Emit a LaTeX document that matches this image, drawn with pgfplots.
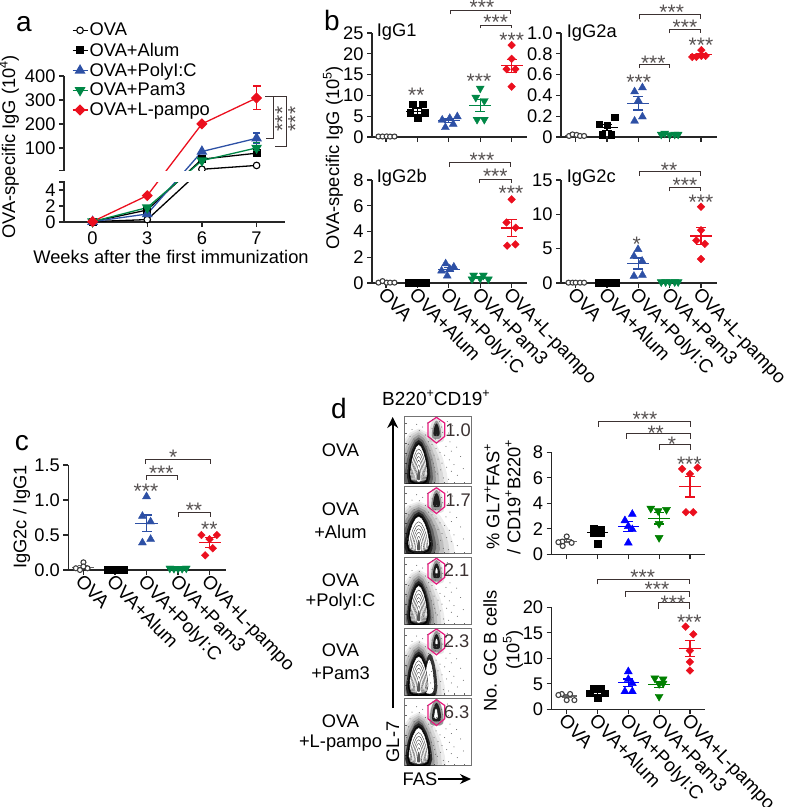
\documentclass[border=0pt]{standalone}
\usepackage{pgfplots}
\pgfplotsset{compat=1.18}
\usepackage{pgfplotstable}
\usepackage{fontspec}
\usetikzlibrary{arrows.meta}
\setmainfont{Liberation Sans}
\newcommand\fs{\fontsize{18.3}{20}\selectfont}
\newcommand\su[1]{\raisebox{.42em}{\fontsize{12.5}{12.5}\selectfont #1}}
\definecolor{cpoly}{RGB}{45,80,165}
\definecolor{cpam}{RGB}{0,135,70}
\definecolor{clp}{RGB}{235,15,30}
\definecolor{cbr}{RGB}{60,50,50}
\definecolor{cst}{RGB}{85,80,80}
\definecolor{cgate}{RGB}{230,25,125}
\pgfplotsset{
 px/.style n args={4}{at={(#1pt,-#2pt)},anchor=south west,width=#3pt,height=#4pt,scale only axis},
 base/.style={axis x line=bottom,axis y line=left,axis line style={-,line width=1.3pt,color=black!85},
   tick style={line width=1.2pt,color=black!85},major tick length=5pt,tick align=outside,
   tick label style={font=\fs},clip=false},
 dotx/.style={base,xtick={0,1,2,3,4},xticklabels={}},
 cats/.style={xticklabels={OVA,OVA+Alum,OVA+PolyI:C,OVA+Pam3,OVA+L-pampo},
   xticklabel style={rotate=-46,anchor=north west,inner sep=0pt,xshift=-1pt,yshift=2pt,font=\fontsize{18.9}{20}\selectfont}},
 gova/.style={only marks,mark=*,mark size=2.5pt,mark options={fill=white,draw=black!75,line width=1.1pt}},
 galum/.style={only marks,mark=square*,mark size=3.3pt,mark options={fill=black,draw=black}},
 gpoly/.style={only marks,mark=triangle*,mark size=4.6pt,mark options={fill=#1,draw=#1}},
 gpam/.style={only marks,mark=triangle*,mark size=4.6pt,mark options={rotate=180,fill=#1,draw=#1}},
 glp/.style={only marks,mark=square*,mark size=2.7pt,mark options={rotate=45,fill=clp,draw=clp}},
}
% mean line and SEM: #1 x, #2 mean, #3 sem, #4 colour
\newcommand\stat[4]{%
 \addplot[#4,line width=1.2pt,forget plot,error bars/.cd,x dir=both,x fixed=0.35,error mark=none,
   error bar style={line width=1.2pt,#4}] coordinates {(#1,#2)};
 \addplot[#4,line width=1.2pt,forget plot,error bars/.cd,y dir=both,y fixed=#3,error mark=-,
   error bar style={line width=1.2pt,#4},error mark options={rotate=90,mark size=5pt,line width=1.2pt,#4}] coordinates {(#1,#2)};
}
\pgfplotstableread{
x y
0 1
0.3 0.88
0.6 0.55
0.82 0.15
0.96 -0.3
1 -0.6
0.85 -0.9
0.5 -1
0 -1.02
-0.5 -1
-0.85 -0.9
-1 -0.6
-0.96 -0.3
-0.82 0.15
-0.6 0.55
-0.3 0.88
0 1
}\eggtab
\pgfplotstableread{
x y
0.03 0.42
0.06 0.58
0.04 0.22
0.08 0.7
0.11 0.8
0.14 0.66
0.18 0.88
0.22 0.79
0.27 0.84
0.31 0.72
0.34 0.9
0.36 0.62
0.33 0.55
0.38 0.49
0.41 0.58
0.44 0.42
0.47 0.52
0.5 0.36
0.53 0.46
0.56 0.3
0.6 0.42
0.63 0.24
0.67 0.35
0.7 0.18
0.74 0.28
0.79 0.12
0.45 0.24
0.49 0.14
0.54 0.2
0.58 0.08
0.42 0.1
0.66 0.06
0.37 0.3
0.4 0.35
0.43 0.3
0.46 0.17
0.39 0.18
0.62 0.55
0.68 0.62
0.66 0.75
0.72 0.86
0.64 0.92
0.7 0.48
0.78 0.54
0.84 0.4
0.88 0.22
0.42 0.95
0.45 0.88
0.52 0.92
0.55 0.84
0.41 0.82
0.43 0.72
0.46 0.66
0.51 0.63
0.54 0.7
0.57 0.76
0.4 0.66
0.48 0.72
}\specktab
\newcommand\egg[5]{\addplot[#5,forget plot] table[x expr={#1+#3*\thisrow{x}},y expr={#2+#4*\thisrow{y}}]{\eggtab};}
% flow panel: #1 bottom y; #2 main half width; #3 main half height; #4 gate size; #5 shoulder; #6 gate core; #7 halo width factor
\newcommand\flow[7]{%
\begin{axis}[px={404.7}{#1}{66.6}{67},xmin=0,xmax=1,ymin=0,ymax=1,
   axis line style={black!55,line width=0.7pt},xtick={0.15,0.3,0.45,0.6,0.75,0.9},ytick={0.15,0.3,0.45,0.6,0.75,0.9},
   xticklabels={},yticklabels={},tick align=inside,major tick length=1.8pt,tick style={black!60,line width=0.4pt},
   xtick pos=bottom,ytick pos=left]
 \addplot[only marks,mark=*,mark size=0.22pt,black!60,forget plot] table {\specktab};
 \egg{0.21}{0.3}{#2*3.4*#7}{#3*1.85}{fill=black,fill opacity=0.07,draw=none}
 \egg{0.21}{0.3}{#2*2.9*#7}{#3*1.75}{fill=black,fill opacity=0.09,draw=none}
 \egg{0.21}{0.3}{#2*2.4*#7}{#3*1.65}{fill=black,fill opacity=0.12,draw=none}
 \egg{0.21}{0.3}{#2*2.0*#7}{#3*1.52}{fill=black,fill opacity=0.2,draw=none}
 \egg{0.21}{0.3}{#2*1.65*#7}{#3*1.38}{fill=black,fill opacity=0.35,draw=none}
 \egg{0.21}{0.3}{#2*1.35}{#3*1.24}{fill=black,fill opacity=0.65,draw=none}
 \egg{0.21}{0.3}{#2*1.15}{#3*1.1}{fill=black,fill opacity=0.9,draw=none}
 #5
 \egg{0.21}{0.3}{#2}{#3}{fill=white,draw=black,line width=0.4pt}
 \egg{0.21}{0.02+#3*0.88}{#2*0.86}{#3*0.88}{draw=black!85,line width=0.3pt}
 \egg{0.21}{0.02+#3*0.78}{#2*0.72}{#3*0.78}{draw=black!85,line width=0.3pt}
 \egg{0.21}{0.02+#3*0.68}{#2*0.58}{#3*0.68}{draw=black!85,line width=0.3pt}
 \egg{0.21}{0.02+#3*0.58}{#2*0.45}{#3*0.58}{draw=black!85,line width=0.3pt}
 \egg{0.21}{0.02+#3*0.46}{#2*0.3}{#3*0.46}{draw=black!85,line width=0.3pt}
 \egg{0.21}{0.13}{0.025}{0.08}{fill=black!65,draw=none}
 \egg{0.478}{0.8}{0.12}{0.19}{fill=black,fill opacity=0.1,draw=none}
 \egg{0.478}{0.8}{0.085*#4}{0.16*#4}{fill=black,fill opacity=0.35,draw=none}
 \egg{0.478}{0.8}{0.055*#4}{0.11*#4}{fill=black,fill opacity=0.8,draw=none}
 #6
 \addplot[cgate,line width=1.2pt,forget plot] coordinates {(0.477,0.985)(0.6,0.9)(0.6,0.7)(0.477,0.6)(0.35,0.7)(0.35,0.9)(0.477,0.985)};
\end{axis}}
\begin{document}
\begin{tikzpicture}
\path[use as bounding box] (0,0) rectangle (787pt,-807pt);
%%%% panel a
\begin{axis}[px={64}{222}{221}{146.1},base,xmin=-0.523,xmax=3.52,ymin=0,ymax=400,clip=false,
  y coord trafo/.code={\pgfmathparse{#1<=5 ? #1*8 : 51.3+(#1-5)*0.24}},
  y coord inv trafo/.code={\pgfmathparse{#1}},
  xtick={0,1,2,3},xticklabels={0,3,6,7},
  ytick={0,2,4,100,200,300,400},yticklabels={0,2,4,100,200,300,400},
  xticklabel style={yshift=-1pt},
  legend image code/.code={\draw[mark repeat=2,mark phase=2,#1] plot coordinates {(0pt,0pt)(7.5pt,0pt)(15pt,0pt)};},
  legend style={at={(7.7pt,200.5pt)},anchor=north west,draw=none,fill=none,font=\fs,
    row sep=2.4pt,inner sep=0pt,nodes={inner sep=1.5pt}},
  legend cell align=left,
  every axis plot/.append style={line width=1.3pt}]
 \addplot[black,mark=*,mark size=3.3pt,mark options={fill=white,draw=black,line width=1.1pt}] coordinates {(0,0.05)(1,0.3)(2,11)(3,27)};
 \addplot[black,forget plot,mark=-,mark size=3.5pt] coordinates {(3,70)(3,90)};
 \addplot[black,mark=square*,mark size=3.4pt,mark options={fill=black}] coordinates {(0,0.05)(1,1.5)(2,53)(3,78)};
 \addplot[cpoly,forget plot,mark=-,mark size=3.5pt] coordinates {(3,120)(3,162)};
 \addplot[cpoly,mark=triangle*,mark size=5pt,mark options={fill=cpoly}] coordinates {(0,0.05)(1,1.0)(2,85)(3,140)};
 \addplot[cpam,forget plot,mark=-,mark size=3.5pt] coordinates {(3,88)(3,122)};
 \addplot[cpam,mark=triangle*,mark size=5pt,mark options={rotate=180,fill=cpam}] coordinates {(0,0.05)(1,1.8)(2,47)(3,100)};
 \addplot[clp,forget plot,mark=-,mark size=4pt] coordinates {(3,260)(3,358)};
 \addplot[clp,mark=square*,mark size=3.3pt,mark options={rotate=45,fill=clp}] coordinates {(0,0.05)(1,3.3)(2,200)(3,308)};
 \legend{OVA,OVA+Alum,OVA+PolyI:C,OVA+Pam3,OVA+L-pampo}
\end{axis}
%%%% panel b
\begin{axis}[px={372}{137}{155}{104},dotx,xmin=-0.446,xmax=4.49,ymin=0,ymax=25,ytick={0,5,10,15,20,25},yticklabels={0,5,10,15,20,25}]
 \stat{0}{0.12}{0.03}{black!60}
 \addplot[gova] coordinates {(-0.24,0.12)(-0.11,0.12)(0.02,0.15)(0.13,0.1)(0.27,0.12)};
 \stat{1}{6.2}{0.75}{black}
 \addplot[galum] coordinates {(0.85,7.9)(1.17,7.9)(0.77,5.85)(1.24,5.85)(1,4.5)};
 \stat{2}{3.9}{0.45}{cpoly}
 \addplot[gpoly=cpoly] coordinates {(1.79,4.1)(2.27,4.9)(2.03,4.5)(2.14,3.1)(1.89,2.3)};
 \stat{3}{7.6}{1.4}{cpam}
 \addplot[gpam=cpam] coordinates {(3,11.7)(2.86,9.5)(3.13,8.7)(3.13,4.2)(2.9,4.2)};
 \stat{4}{17.1}{1.6}{clp}
 \addplot[glp] coordinates {(4,22.1)(4,18.8)(3.84,16.3)(4.12,16.3)(4,12.1)};
\end{axis}
\begin{axis}[px={561}{137}{156}{104},dotx,xmin=-0.468,xmax=4.51,ymin=0,ymax=1,ytick={0,0.2,0.4,0.6,0.8,1},yticklabels={0,0.2,0.4,0.6,0.8,1.0}]
 \stat{0}{0.015}{0.004}{black!60}
 \addplot[gova] coordinates {(-0.21,0.01)(-0.1,0.025)(0.03,0.02)(0.14,0.01)(0.27,0.01)};
 \stat{1}{0.09}{0.03}{black}
 \addplot[galum] coordinates {(0.75,0.125)(1.01,0.115)(1.25,0.19)(0.85,0.02)(1.14,0.02)};
 \stat{2}{0.325}{0.065}{cpoly}
 \addplot[gpoly=cpoly] coordinates {(2.13,0.475)(1.88,0.436)(2,0.35)(2.13,0.195)(1.88,0.154)};
 \stat{3}{0.026}{0.004}{cpam}
 \addplot[gpam=cpam] coordinates {(2.84,0.035)(3.16,0.025)(3,0.02)(2.73,0.025)(3.27,0.025)};
 \stat{4}{0.79}{0.015}{clp}
 \addplot[glp] coordinates {(4.01,0.835)(3.85,0.77)(3.72,0.77)(4.15,0.78)(4.01,0.78)};
\end{axis}
\begin{axis}[px={372}{283}{155}{103},dotx,cats,xmin=-0.446,xmax=4.49,ymin=0,ymax=8,ytick={0,2,4,6,8},yticklabels={0,2,4,6,8}]
 \stat{0}{0.05}{0.02}{black!60}
 \addplot[gova] coordinates {(-0.24,0.03)(-0.11,0.15)(0.02,0.03)(0.13,0.03)(0.27,0.03)};
 \stat{1}{0.02}{0.005}{black}
 \addplot[galum] coordinates {(0.71,0.02)(0.87,0.02)(1,0.02)(1.14,0.02)(1.28,0.02)};
 \stat{2}{1.05}{0.15}{cpoly}
 \addplot[gpoly=cpoly] coordinates {(1.9,1.5)(2.16,1.25)(2.03,1.1)(1.77,0.95)(1.95,0.55)};
 \stat{3}{0.42}{0.09}{cpam}
 \addplot[gpam=cpam] coordinates {(2.79,0.6)(3.1,0.6)(3,0.35)(3.26,0.3)(2.74,0.3)};
 \stat{4}{4.28}{0.65}{clp}
 \addplot[glp] coordinates {(4,6.5)(3.84,4.7)(4.13,4.3)(3.86,2.9)(4.12,3)};
\end{axis}
\begin{axis}[px={561}{283}{156}{103},dotx,cats,xmin=-0.468,xmax=4.51,ymin=0,ymax=15,ytick={0,5,10,15},yticklabels={0,5,10,15}]
 \stat{0}{0.05}{0.01}{black!60}
 \addplot[gova] coordinates {(-0.23,0.05)(-0.1,0.05)(0,0.05)(0.14,0.05)(0.27,0.05)};
 \stat{1}{0.02}{0.005}{black}
 \addplot[galum] coordinates {(0.72,0.02)(0.86,0.02)(1,0.02)(1.14,0.02)(1.28,0.02)};
 \stat{2}{2.85}{0.8}{cpoly}
 \addplot[gpoly=cpoly] coordinates {(1.99,4.9)(1.86,3.9)(2.12,3.2)(2.13,1.15)(1.86,1)};
 \stat{3}{0.15}{0.02}{cpam}
 \addplot[gpam=cpam] coordinates {(2.73,0.15)(2.87,0.15)(3,0.15)(3.16,0.15)(3.27,0.15)};
 \stat{4}{6.86}{1.25}{clp}
 \addplot[glp] coordinates {(4,11.1)(4,7.7)(3.85,6.2)(4.12,5.7)(4,3.5)};
\end{axis}
%%%% panel c
\begin{axis}[px={68.3}{570}{157.7}{105},dotx,cats,xmin=-0.48,xmax=4.52,ymin=0,ymax=1.5,ytick={0,0.5,1,1.5},yticklabels={0.0,0.5,1.0,1.5}]
 \stat{0}{0.04}{0.02}{black!60}
 \addplot[gova] coordinates {(0,0.11)(-0.24,0.025)(-0.11,0)(0.13,0.025)(0,0.05)};
 \stat{1}{0.005}{0.002}{black}
 \addplot[galum] coordinates {(0.75,0.005)(0.87,0.005)(1,0.005)(1.14,0.005)(1.28,0.005)};
 \stat{2}{0.667}{0.12}{cpoly}
 \addplot[gpoly=cpoly] coordinates {(2,1.05)(1.87,0.77)(2.13,0.69)(2.13,0.44)(1.87,0.39)};
 \stat{3}{0.02}{0.003}{cpam}
 \addplot[gpam=cpam] coordinates {(2.74,0.025)(2.87,0.02)(3,0.02)(3.13,0.02)(3.26,0.025)};
 \stat{4}{0.39}{0.07}{clp}
 \addplot[glp] coordinates {(3.74,0.5)(4.23,0.5)(4,0.44)(4.1,0.31)(3.86,0.21)};
\end{axis}
%%%% panel d charts
\begin{axis}[px={551.7}{554.3}{153.6}{102},dotx,xmin=-0.487,xmax=4.5,ymin=0,ymax=8,ytick={0,2,4,6,8},yticklabels={0,2,4,6,8}]
 \stat{0}{1.02}{0.12}{black!60}
 \addplot[gova] coordinates {(0,1.4)(-0.14,1)(0.16,0.9)(-0.27,0.95)(-0.13,0.65)};
 \stat{1}{1.7}{0.2}{black}
 \addplot[galum] coordinates {(0.88,2.05)(1.11,1.95)(0.88,1.65)(1.11,1.65)(1,0.85)};
 \stat{2}{2.17}{0.38}{blue}
 \addplot[gpoly=blue] coordinates {(2.13,3.15)(1.89,2.65)(2,2.2)(2.13,1.95)(2,0.9)};
 \stat{3}{2.82}{0.45}{green!50!black}
 \addplot[gpam=green!50!black] coordinates {(2.73,3.6)(3.24,3.5)(2.97,3.4)(3,2.4)(3,1.3)};
 \stat{4}{5.3}{0.8}{clp}
 \addplot[glp] coordinates {(3.75,6.7)(4.25,6.8)(4,6.3)(3.87,3.3)(4.11,3.3)};
\end{axis}
\begin{axis}[px={551.7}{709.3}{153.6}{102},dotx,cats,xmin=-0.487,xmax=4.5,ymin=0,ymax=20,ytick={0,5,10,15,20},yticklabels={0,5,10,15,20}]
 \stat{0}{2.6}{0.25}{black!60}
 \addplot[gova] coordinates {(-0.16,3)(0.11,3)(-0.27,2.8)(0,1.8)(0.25,1.8)};
 \stat{1}{3.3}{0.35}{black}
 \addplot[galum] coordinates {(0.88,4.05)(1.11,4.05)(0.75,3.15)(1.24,3.15)(1,2.15)};
 \stat{2}{5.2}{0.75}{blue}
 \addplot[gpoly=blue] coordinates {(2,7.4)(2,5.9)(2.13,5.1)(1.89,3.5)(2.13,3.5)};
 \stat{3}{4.9}{0.6}{green!50!black}
 \addplot[gpam=green!50!black] coordinates {(2.86,6.1)(3.13,5.9)(3,5)(3.13,5.1)(3,2.5)};
 \stat{4}{11.9}{1.6}{clp}
 \addplot[glp] coordinates {(3.86,16.2)(4.11,14.7)(4,11.5)(4,9.3)(4,7.6)};
\end{axis}
%%%% flow plots
\flow{483.3}{0.13}{0.28}{0.85}{}{}{1}
\flow{553.7}{0.16}{0.26}{0.95}{}{}{1}
\flow{624.3}{0.13}{0.28}{1}{}{\egg{0.478}{0.8}{0.018}{0.04}{fill=white,draw=none}}{0.9}
\flow{695}{0.14}{0.28}{1}{\egg{0.38}{0.3}{0.11}{0.32}{fill=black,fill opacity=0.75,draw=none}\egg{0.37}{0.28}{0.075}{0.26}{fill=white,draw=black,line width=0.4pt}}{\egg{0.478}{0.8}{0.018}{0.04}{fill=white,draw=none}}{0.85}
\flow{765.7}{0.15}{0.27}{1.25}{}{\egg{0.47}{0.78}{0.03}{0.08}{fill=white,draw=black,line width=0.3pt}}{0.8}
%%%% text & annotations
\begin{scope}[x=1pt,y=-1pt,every node/.style={font=\fs,inner sep=0pt}]
 % panel letters
 \node[font=\fontsize{28}{28}\selectfont] at (24,24) {a};
 \node[font=\fontsize{28}{28}\selectfont] at (332,20) {b};
 \node[font=\fontsize{28}{28}\selectfont] at (22,443) {c};
 \node[font=\fontsize{28}{28}\selectfont] at (339,408) {d};
 % panel a extras
 \fill[white] (54,171.2) rectangle (292,181.6);
 \draw[black!85,line width=1.2pt] (59,170.7)--(64.6,170.7) (59,182)--(64.6,182);
 \node[rotate=90] at (9,147) {OVA-specific IgG (10\su{4})};
 \node at (171,257) {Weeks after the first immunization};
 \draw[cbr,line width=1pt] (265,96)--(273,96)--(273,138.3)--(266,138.3);
 \draw[cbr,line width=1pt] (274,96)--(286,96)--(286,146.7)--(275,146.7);
 % labels
 \node[rotate=90] at (333,158) {OVA-specific IgG (10\su{5})};
 \node[anchor=west] at (376.7,32) {IgG1};
 \node[anchor=west] at (566.7,33) {IgG2a};
 \node[anchor=west] at (376.7,178) {IgG2b};
 \node[anchor=west] at (566.7,178) {IgG2c};
 \node[rotate=90] at (21.7,517) {IgG2c / IgG1};
 \node[rotate=90] at (492,497) {\% GL7\su{+}FAS\su{+}};
 \node[rotate=90] at (513,497) {/ CD19\su{+}B220\su{+}};
 \node[rotate=90] at (490,651) {No. GC B cells};
 \node[rotate=90] at (513,650) {(10\su{5})};
 % left text
 \node at (340.5,450) {OVA};
 \node at (340.5,509) {OVA};\node at (340.5,532) {+Alum};
 \node at (340.5,580) {OVA};\node at (340.5,602) {+PolyI:C};
 \node at (340.5,650) {OVA};\node at (340.5,672.7) {+Pam3};
 \node at (340.5,720.7) {OVA};\node at (340.5,743) {+L-pampo};
 \node[font=\fontsize{19}{20}\selectfont] at (436,398) {B220\su{+}CD19\su{+}};
 \draw[line width=1.8pt,-{Stealth[length=11pt,width=11pt]}] (392.7,708)--(392.7,417);
 \node[rotate=90] at (392.7,742) {GL-7};
 \node at (420,779) {FAS};
 \draw[line width=1.3pt,-{Stealth[length=11pt,width=10pt]}] (438,779)--(471,779);
 \foreach \t/\x/\y in {1.0/458/430,1.7/458/500,2.1/456.7/570,2.3/456.7/640.7,6.3/456.7/712.3}
   \node[text=cbr] at (\x,\y) {\t};
 % brackets: x1,x2,y,leg
 \newcommand\br[4]{\draw[cbr,line width=0.9pt] (#1,#4)--(#1,#3)--(#2,#3)--(#2,#4);}
 \newcommand\st[3]{\node[anchor=base,font=\fontsize{21}{21}\selectfont,text=cst] at (#1,#2+11.5) {#3};}
 % a
 \node[rotate=90,anchor=base,font=\fontsize{21}{21}\selectfont,text=cst] at (289.5,119) {***};
 \node[rotate=90,anchor=base,font=\fontsize{21}{21}\selectfont,text=cst] at (302.5,119) {***};
 % b IgG1
 \br{450}{510.7}{10}{14.3}\st{482}{3}{***}
 \br{480}{511.7}{25}{28.3}\st{495.7}{18.3}{***}
 \st{511.7}{35.7}{***}\st{479}{77.3}{***}\st{416.3}{90.7}{**}
 % IgG2b
 \br{449.3}{510.3}{162.7}{167}\st{482}{156}{***}
 \br{479}{511}{179}{183}\st{495.3}{172}{***}
 \st{511}{189.3}{***}
 % IgG2a
 \br{639}{700.3}{14.7}{19}\st{671.7}{8.3}{***}
 \br{669}{700.3}{29.3}{33.3}\st{685}{23.3}{***}
 \st{701}{40.7}{***}
 \br{639}{669}{64}{68}\st{653.3}{59}{***}
 \st{638.7}{78.3}{***}
 % IgG2c
 \br{639}{700.3}{171.3}{175.7}\st{669}{165.7}{**}
 \br{669}{700.3}{187}{191.3}\st{685}{181}{***}
 \st{701}{198.3}{***}\st{636.7}{240}{*}
 % c
 \br{145}{210}{459.3}{464}\st{173.3}{453.3}{*}
 \br{146}{177.7}{475.7}{480}\st{161.3}{469}{***}
 \st{146}{487.3}{***}
 \br{178.3}{210.7}{512}{516.7}\st{194}{505.7}{**}
 \st{209.3}{525.3}{**}
 % d top
 \br{598}{690.3}{421}{426.7}\st{645}{415}{***}
 \br{626.3}{690.3}{433.3}{438.7}\st{655.7}{429}{**}
 \br{659.3}{690.3}{444.3}{450}\st{672}{440}{*}
 \st{689.3}{460}{***}
 % d bottom
 \br{597}{689.3}{579}{584.3}\st{642.7}{573.3}{***}
 \br{625}{689.3}{591}{596.7}\st{657}{585.3}{***}
 \br{658.3}{689.3}{602.7}{608.7}\st{673}{599}{***}
 \st{689.3}{618.3}{***}
\end{scope}
\end{tikzpicture}
\end{document}
